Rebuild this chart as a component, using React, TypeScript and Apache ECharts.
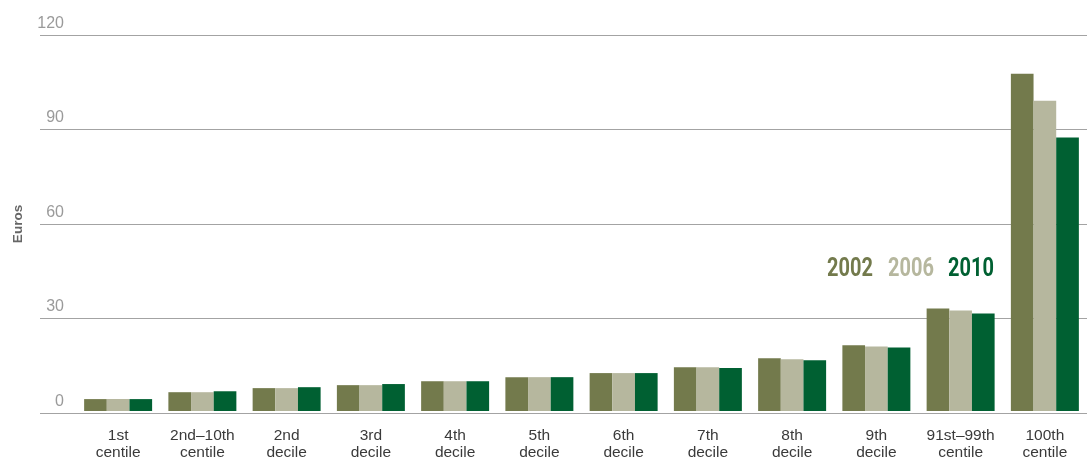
import React, { useEffect, useRef } from "react";
import * as echarts from "echarts";

const categories = [
  "1st\ncentile",
  "2nd–10th\ncentile",
  "2nd\ndecile",
  "3rd\ndecile",
  "4th\ndecile",
  "5th\ndecile",
  "6th\ndecile",
  "7th\ndecile",
  "8th\ndecile",
  "9th\ndecile",
  "91st–99th\ncentile",
  "100th\ncentile",
];

const values2002 = [3.8, 6.0, 7.3, 8.25, 9.5, 10.8, 12.1, 14.0, 16.8, 21.0, 32.7, 107.6];
const values2006 = [3.8, 6.0, 7.3, 8.25, 9.5, 10.8, 12.1, 14.0, 16.5, 20.6, 32.1, 99.0];
const values2010 = [3.8, 6.3, 7.6, 8.6, 9.5, 10.8, 12.1, 13.7, 16.2, 20.3, 31.1, 87.3];

const seriesNames = ["2002", "2006", "2010"];
const colors = ["#737A4C", "#B6B79E", "#006032"];

const yMin = 0;
const yMax = 120;
const yInterval = 30;

export default function App() {
  const ref = useRef<HTMLDivElement>(null);

  useEffect(() => {
    if (!ref.current) return;
    const chart = echarts.init(ref.current, null, { renderer: "svg" });
    const seriesData = [values2002, values2006, values2010];
    const legendOffsets = [0, 76.25, 151.25];
    chart.setOption({
      animation: false,
      textStyle: { fontFamily: "Liberation Sans" },
      grid: [
        { left: 40, right: 0, top: 35, bottom: 47 },
        { left: 76, right: 0, top: 35, bottom: 47 },
      ],
      graphic: [
        {
          type: "group",
          x: 827,
          y: 268,
          scaleX: 0.8,
          children: seriesNames.map((n, i) => ({
            type: "text",
            x: legendOffsets[i],
            y: 0,
            style: {
              text: n,
              fill: colors[i],
              font: "bold 25px Roboto",
              textVerticalAlign: "middle",
              verticalAlign: "middle",
            },
          })),
        },
      ],
      xAxis: [
        {
          gridIndex: 0,
          type: "value",
          show: false,
          min: 0,
          max: 1,
        },
        {
          gridIndex: 1,
          type: "category",
          data: categories,
          axisLine: { show: false },
          axisTick: { show: false },
          axisLabel: {
            interval: 0,
            fontSize: 15.5,
            lineHeight: 17,
            color: "#3a3a3a",
            margin: 15,
          },
        },
      ],
      yAxis: [
        {
          gridIndex: 0,
          type: "value",
          min: yMin,
          max: yMax,
          interval: yInterval,
          axisLine: { show: false },
          axisTick: { show: false },
          splitLine: { lineStyle: { color: "#a3a3a3", width: 1 } },
          axisLabel: {
            inside: true,
            align: "right",
            margin: 24,
            verticalAlign: "bottom",
            lineHeight: 26,
            fontSize: 16,
            color: "#9a9a9a",
          },
          name: "Euros",
          nameLocation: "middle",
          nameGap: 16,
          nameRotate: 90,
          nameTextStyle: {
            fontSize: 13.5,
            fontWeight: "bold",
            color: "#666666",
          },
        },
        {
          gridIndex: 1,
          type: "value",
          min: yMin,
          max: yMax,
          interval: yInterval,
          show: false,
          splitLine: { show: false },
        },
      ],
      series: seriesNames.map((n, i) => ({
        name: n,
        type: "bar",
        xAxisIndex: 1,
        yAxisIndex: 1,
        data: seriesData[i],
        barGap: "0%",
        barCategoryGap: "19.3%",
        itemStyle: { color: colors[i] },
      })),
    });
    return () => chart.dispose();
  }, []);

  return (
    <div
      ref={ref}
      style={{ position: "fixed", left: 0, top: 0, width: 1087, height: 460 }}
    />
  );
}
